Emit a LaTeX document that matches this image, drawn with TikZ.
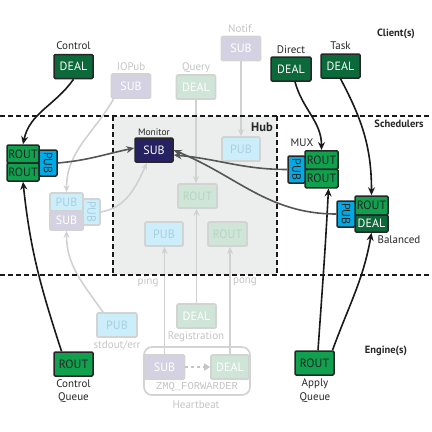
\documentclass[tikz,border=0pt]{standalone}
\usepackage{fontspec}
\setmainfont{PT Sans}
\setsansfont{PT Sans}
\setmonofont{Liberation Mono}
\usetikzlibrary{arrows.meta}
\definecolor{dealg}{RGB}{12,105,58}
\definecolor{routg}{RGB}{16,160,78}
\definecolor{pubb}{RGB}{0,170,230}
\definecolor{subn}{RGB}{38,34,98}
\definecolor{hubfill}{RGB}{236,238,237}
\definecolor{fline}{RGB}{208,210,210}
\definecolor{fborder}{RGB}{210,212,212}
\definecolor{fsub}{RGB}{212,210,226}
\definecolor{fgreen}{RGB}{206,229,216}
\definecolor{fgreentxt}{RGB}{182,213,196}
\definecolor{fpub}{RGB}{204,237,250}
\definecolor{fpubtxt}{RGB}{170,208,224}
\definecolor{flabel}{RGB}{196,196,196}
\definecolor{arrowgray}{RGB}{85,85,85}
\tikzset{
  box/.style={draw=black!85, line width=1.5pt, rounded corners=1.2pt, inner sep=0pt,
    font=\fontsize{12}{12}\selectfont, minimum width=39pt, minimum height=24pt},
  deal/.style={box, fill=dealg, text=white},
  rout/.style={box, fill=routg, text=black!85},
  pubbox/.style={box, fill=pubb, text=black!85},
  subd/.style={box, fill=subn, text=white},
  fbox/.style={box, draw=fborder, line width=1.7pt},
  fsubs/.style={fbox, fill=fsub, text=white},
  fdeal/.style={fbox, fill=fgreen, text=white},
  frout/.style={fbox, fill=fgreen, text=fgreentxt},
  fpubs/.style={fbox, fill=fpub, text=fpubtxt},
  lbl/.style={font=\fontsize{11}{11}\selectfont, text=black!85, inner sep=0pt},
  flbl/.style={lbl, text=flabel},
  hdr/.style={font=\bfseries\fontsize{10.5}{10.5}\selectfont, text=black!85, inner sep=0pt},
  dark/.style={draw=black!90, line width=1.6pt, -{Stealth[length=8pt,width=7pt]}},
  grayc/.style={draw=arrowgray, line width=1.6pt, -{Stealth[length=8pt,width=7pt]}},
  fconn/.style={draw=fline, line width=1.6pt, -{Stealth[length=7pt,width=6pt]}},
  sep/.style={draw=black!90, line width=1.4pt, dash pattern=on 5pt off 3pt},
}
\begin{document}
\begin{tikzpicture}[x=1pt,y=1pt]
\useasboundingbox (0,0) rectangle (432,-432);
% hub area
\fill[hubfill] (113,-116) rectangle (277,-275);
% faded nodes
\node[fsubs] (ioSub) at (131,-86) {SUB};
\node[flbl] (ioLbl) at (131,-67) {IOPub};
\node[fdeal] (qDeal) at (196,-87) {DEAL};
\node[flbl] (qLbl) at (196,-68) {Query};
\node[fsubs] (nSub) at (241,-48.5) {SUB};
\node[flbl] (nLbl) at (241,-29) {Notif.};
\node[fpubs, minimum width=33pt, minimum height=18pt] (fPub) at (66.5,-202) {PUB};
\node[fsubs, minimum width=33pt, minimum height=19pt] (fSub) at (66.5,-220.5) {SUB};
\node[fpubs, rotate=-90, minimum width=26pt, minimum height=17pt] (fSide) at (91.5,-212) {PUB};
\node[fpubs, minimum width=38pt] (hPub) at (241,-149) {PUB};
\node[frout] (hRout) at (197.5,-196) {ROUT};
\node[fpubs, minimum width=38pt] (hPub2) at (164,-234) {PUB};
\node[frout] (hRout2) at (227.5,-234) {ROUT};
\node[fpubs, minimum width=40pt] (soPub) at (117,-325) {PUB};
\node[flbl] (soLbl) at (117,-345) {stdout/err};
\node[fdeal] (regDeal) at (196.5,-316) {DEAL};
\node[flbl] (regLbl) at (196,-337) {Registration};
\draw[draw=fborder, line width=1.7pt, rounded corners=8pt] (144,-347) rectangle (250,-395);
\node[fsubs, minimum width=40pt] (hbSub) at (164.5,-367) {SUB};
\node[fdeal, minimum width=38pt] (hbDeal) at (230,-367) {DEAL};
\node[flbl, font=\ttfamily\fontsize{10.5}{10.5}\selectfont] (zmqLbl) at (197,-387) {ZMQ\_FORWARDER};
\node[flbl] (hbLbl) at (196,-405) {Heartbeat};
\node[flbl] (pingLbl) at (148,-282) {ping};
\node[flbl] (pongLbl) at (245,-282) {pong};
% faded connectors
\draw[fconn] ([xshift=3pt]ioSub.south west) to[out=-120,in=90] (fPub.north);
\draw[fconn] (qDeal.south) -- (hRout.north -| qDeal.south);
\draw[fconn] (nSub.south) -- (hPub.north);
\draw[fconn] (regDeal.north) -- (hRout.south -| regDeal.north);
\draw[fconn] (hbSub.north) -- (hPub2.south -| hbSub.north);
\draw[fconn] (hbDeal.north) -- (hRout2.south -| hbDeal.north);
\draw[fconn] ([xshift=-14pt]soPub.north) to[out=125,in=-90] (fSub.south);
\draw[draw=flabel, line width=1.5pt, dash pattern=on 3pt off 3pt, -{Triangle[length=6pt,width=7pt]}] (hbSub.east) -- (hbDeal.west);
% separators
\draw[sep] (0,-116) -- (432,-116);
\draw[sep] (0,-275) -- (432,-275);
\draw[sep] (113,-116) -- (113,-275);
\draw[sep] (277,-116) -- (277,-275);
% headers
\node[hdr] (hClient) at (396,-34) {Client(s)};
\node[hdr] (hSched) at (399,-124) {Schedulers};
\node[hdr, font=\bfseries\fontsize{12.5}{12.5}\selectfont] (hHub) at (262,-127) {Hub};
\node[hdr] (hEng) at (386,-351) {Engine(s)};
% active nodes
\node[deal] (cDeal) at (73.5,-66.5) {DEAL};
\node[lbl] (cLbl) at (73.5,-46) {Control};
\node[deal, minimum width=40pt] (dDeal) at (291,-69) {DEAL};
\node[lbl] (dLbl) at (291,-50) {Direct};
\node[deal] (tDeal) at (340.5,-66) {DEAL};
\node[lbl] (tLbl) at (340.5,-46) {Task};
\node[rout, minimum width=32pt, minimum height=18pt] (cRoutA) at (23,-154) {ROUT};
\node[rout, minimum width=32pt, minimum height=18pt] (cRoutB) at (23,-172) {ROUT};
\node[pubbox, rotate=-90, minimum width=26pt, minimum height=18pt] (cPub) at (48,-163) {PUB};
\node[subd, minimum width=38pt] (mon) at (154,-150) {SUB};
\node[lbl, font=\fontsize{9.5}{9.5}\selectfont] (monLbl) at (154,-132) {Monitor};
\node[rout, minimum width=33pt, minimum height=18.5pt] (mRoutA) at (321.5,-160) {ROUT};
\node[rout, minimum width=33pt, minimum height=18.5pt] (mRoutB) at (321.5,-178.5) {ROUT};
\node[pubbox, rotate=-90, minimum width=27pt, minimum height=17pt] (mPub) at (296.5,-169.5) {PUB};
\node[lbl] (muxLbl) at (302,-143) {MUX};
\node[rout, minimum width=33pt, minimum height=19pt] (bRout) at (371.5,-205.5) {ROUT};
\node[deal, minimum width=33pt, minimum height=17pt] (bDeal) at (371.5,-223.5) {DEAL};
\node[pubbox, rotate=-90, minimum width=26pt, minimum height=18pt] (bPub) at (346,-214) {PUB};
\node[lbl] (bLbl) at (399,-240) {Balanced};
\node[rout] (cqRout) at (73.5,-364) {ROUT};
\node[lbl] (cqLbl1) at (73.5,-384) {Control};
\node[lbl] (cqLbl2) at (73.5,-398) {Queue};
\node[rout] (aqRout) at (314.5,-363) {ROUT};
\node[lbl] (aqLbl1) at (315,-384) {Apply};
\node[lbl] (aqLbl2) at (315,-398) {Queue};
% faded connector into monitor
\draw[fconn] (fSide.north) to[out=10,in=-115] ([xshift=-7pt]mon.south);
% dark connectors
\draw[dark] (cDeal.south) to[out=-125,in=78] (cRoutA.north);
\draw[dark] ([xshift=-12pt]cqRout.north) to[out=108,in=-84] (cRoutB.south);
\draw[dark] ([xshift=4pt]dDeal.south) to[out=-75,in=90] (mRoutA.north);
\draw[dark] (tDeal.south) to[out=-62,in=90] (bRout.north);
\draw[dark] ([xshift=3.5pt]aqRout.north) to[out=86,in=-93] ([xshift=7pt]mRoutB.south);
\draw[dark] ([xshift=18pt]aqRout.north) to[out=70,in=-100] (bDeal.south);
% gray connectors
\draw[grayc] (cPub.north) to[out=5,in=192] ([yshift=2pt]mon.west);
\draw[grayc] (mPub.south) to[out=180,in=-5] ([yshift=-5pt]mon.east);
\draw[grayc] (bPub.south) to[out=180,in=-22] ([yshift=-13pt]mon.north east);
\end{tikzpicture}
\end{document}
